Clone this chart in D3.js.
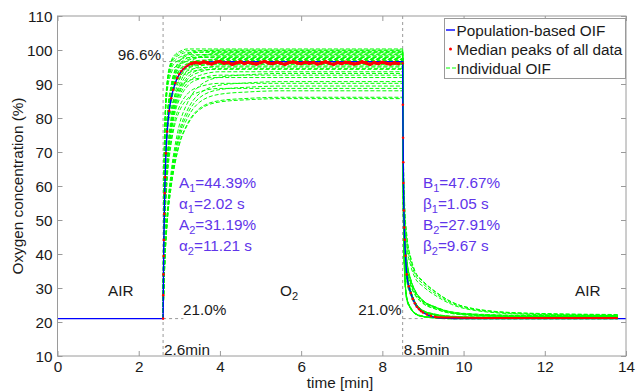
<!DOCTYPE html>
<html><head><meta charset="utf-8">
<script src="https://cdn.jsdelivr.net/npm/d3@7"></script>
<style>
html,body{margin:0;padding:0;background:#fff;}
svg text{font-family:"Liberation Sans",Arial,Helvetica,sans-serif;}
</style></head>
<body><svg id="c" width="636" height="391"></svg>
<script>
// ---------------- data ----------------
const xTicks = [0, 2, 4, 6, 8, 10, 12, 14];
const yTicks = [10, 20, 30, 40, 50, 60, 70, 80, 90, 100, 110];
const switchTimes = [2.6, 8.5];          // min
const baseLevel = 21.0, peakLevel = 96.6; // %

// population-based OIF (blue)
const blueT = [0, 2.6, 2.605, 2.61, 2.615, 2.62, 2.63, 2.64, 2.65, 2.67, 2.7, 2.75, 2.8, 2.9, 3.0, 3.1, 3.2, 3.35, 3.5, 3.75, 4.0, 5.0, 8.5,
               8.505, 8.51, 8.515, 8.52, 8.53, 8.54, 8.55, 8.57, 8.6, 8.65, 8.7, 8.75, 8.8, 8.85, 8.9, 9.0, 9.15, 9.3, 9.5, 9.7, 10.0, 14.0];
const blueV = [21, 21, 27.9, 34.0, 39.4, 44.1, 51.8, 57.9, 62.6, 69.6, 76.0, 82.1, 85.8, 90.3, 92.9, 94.4, 95.3, 96.0, 96.3, 96.5, 96.55, 96.58, 96.58,
               83.9, 74.2, 67.0, 60.9, 52.8, 47.8, 44.2, 39.5, 34.0, 30.5, 28.5, 26.8, 25.5, 24.5, 23.8, 22.8, 21.9, 21.4, 21.15, 21.05, 21.0, 21.0];

// median peaks of all data (red dots)
const redRiseT = [2.6, 2.605, 2.61, 2.615, 2.62, 2.63, 2.64, 2.65, 2.67, 2.7, 2.75, 2.8, 2.85, 2.9, 2.95, 3.0, 3.05, 3.1, 3.15, 3.2, 3.25];
const redRiseV = [21, 27.9, 34.0, 39.4, 44.1, 51.8, 57.9, 62.6, 69.6, 76.0, 82.1, 85.8, 88.3, 90.3, 91.8, 92.9, 93.8, 94.5, 95.0, 95.4, 95.8];
const redPlateauStart = 3.3, redPlateauStep = 0.1;
const redPlateauV = [96.0, 96.3, 96.1, 96.5, 96.2, 95.9, 96.4, 96.6, 96.1, 96.3, 95.8, 96.2, 96.5, 96.0, 96.4, 96.1, 95.9, 96.3, 96.6, 96.2,
                     96.0, 96.4, 96.1, 95.8, 96.3, 96.5, 96.2, 96.0, 96.4, 96.1, 96.3, 95.9, 96.2, 96.5, 96.1, 95.8, 96.3, 96.0, 96.4, 96.2,
                     95.9, 96.1, 96.5, 96.2, 95.8, 96.3, 96.0, 96.4, 96.1, 95.9, 96.2, 96.0];
const redFallT = [8.5, 8.505, 8.51, 8.515, 8.52, 8.53, 8.54, 8.55, 8.57, 8.6, 8.65, 8.7, 8.75, 8.8, 8.85, 8.9, 8.95, 9.0, 9.1, 9.2, 9.3];
const redFallV = [96.1, 83.9, 74.2, 67.0, 60.9, 52.8, 47.8, 44.2, 39.5, 34.0, 30.5, 28.5, 26.8, 25.5, 24.5, 23.8, 23.2, 22.8, 22.2, 21.8, 21.5];
const redTailT = [9.3, 9.4, 9.6, 9.8, 10.0, 10.5, 11.0, 12.0, 13.0, 13.8];
const redTailV = [21.5, 21.4, 21.3, 21.3, 21.25, 21.2, 21.2, 21.2, 21.2, 21.2];

// individual OIF curves (green): read shapes (fractions of the step) and per-curve levels
const riseT = [2.6, 2.62, 2.65, 2.7, 2.8, 2.9, 3.0, 3.2, 3.5, 4.0, 4.7, 5.5, 8.5];
const riseShapes = [
  [0, 0.50, 0.75, 0.88, 0.955, 0.98, 0.99, 1, 1, 1, 1, 1, 1],
  [0, 0.32, 0.57, 0.75, 0.87, 0.93, 0.96, 0.985, 0.997, 1, 1, 1, 1],
  [0, 0.22, 0.43, 0.60, 0.76, 0.85, 0.90, 0.955, 0.985, 1, 1, 1, 1],
  [0, 0.13, 0.28, 0.43, 0.60, 0.71, 0.79, 0.88, 0.95, 0.985, 0.995, 1, 1]
];
const fallT = [8.52, 8.55, 8.6, 8.7, 8.8, 9.0, 9.3, 9.7, 10.3, 11.5, 13.8];
const fallShapes = [
  [0.38, 0.18, 0.08, 0.04, 0.02, 0.008, 0.003, 0, 0, 0, 0],
  [0.49, 0.28, 0.17, 0.10, 0.06, 0.026, 0.011, 0.003, 0, 0, 0],
  [0.52, 0.33, 0.22, 0.14, 0.10, 0.06, 0.035, 0.015, 0.006, 0.001, 0],
  [0.60, 0.42, 0.31, 0.22, 0.17, 0.13, 0.09, 0.05, 0.022, 0.006, 0]
];
const indivPlateau = [100.3, 100.0, 99.8, 99.6, 99.3, 99.1, 98.8, 98.6, 98.3, 98.0, 97.8, 97.5, 97.2, 96.9, 96.6, 96.3, 96.0,
                      95.7, 95.3, 95.0, 94.6, 94.3, 93.6, 93.1, 92.6, 91.9, 90.7, 90.2, 89.4, 88.7, 88.0, 86.1, 85.7];
const indivRise = [0, 1, 0, 1, 0, 2, 1, 0, 1, 1, 0, 2, 1, 1, 0, 2, 1, 1, 2, 1, 2, 1, 2, 3, 2, 1, 3, 2, 3, 2, 3, 3, 3];
const indivFall = [1, 0, 2, 1, 0, 1, 3, 1, 0, 2, 1, 1, 0, 2, 1, 3, 0, 1, 2, 1, 0, 2, 1, 3, 1, 0, 2, 1, 2, 0, 3, 1, 2];
const indivTail = [21.3, 21.1, 21.6, 21.2, 21.0, 21.4, 22.1, 21.2, 20.9, 21.8, 21.3, 21.5, 21.1, 21.7, 21.2, 22.2, 21.0,
                   21.4, 21.9, 21.3, 21.1, 21.6, 21.2, 22.0, 21.4, 21.0, 21.8, 21.3, 21.5, 21.1, 21.9, 21.2, 21.6];

const legendLabels = ["Population-based OIF", "Median peaks of all data", "Individual OIF"];
const paramsA = [["A", "1", "=44.39%"], ["α", "1", "=2.02 s"], ["A", "2", "=31.19%"], ["α", "2", "=11.21 s"]];
const paramsB = [["B", "1", "=47.67%"], ["β", "1", "=1.05 s"], ["B", "2", "=27.91%"], ["β", "2", "=9.67 s"]];

// ---------------- chart ----------------
const svg = d3.select("#c");
const x = d3.scaleLinear().domain([0, 14]).range([57.5, 626]);
const y = d3.scaleLinear().domain([10, 110]).range([356, 16]);
const FS = 15.3;
const frameCol = "#9a9a9a";
const txtCol = "#1a1a1a";
const paramCol = "#6035ea";

svg.append("clipPath").attr("id", "pc").append("rect")
  .attr("x", x(0)).attr("y", y(110)).attr("width", x(14) - x(0)).attr("height", y(10) - y(110));

// helper dashed lines
const helper = svg.append("g").attr("stroke", "#999").attr("stroke-width", 1).attr("stroke-dasharray", "3,3").attr("fill", "none");
switchTimes.forEach(t => helper.append("line").attr("x1", x(t)).attr("x2", x(t)).attr("y1", y(110)).attr("y2", y(10)));
helper.append("line").attr("x1", x(2.6)).attr("x2", x(3.1)).attr("y1", y(peakLevel)).attr("y2", y(peakLevel));
helper.append("line").attr("x1", x(2.6)).attr("x2", x(3.1)).attr("y1", y(baseLevel)).attr("y2", y(baseLevel));
helper.append("line").attr("x1", x(8.5)).attr("x2", x(9.0)).attr("y1", y(baseLevel)).attr("y2", y(baseLevel));

const line = d3.line().x(d => x(d[0])).y(d => y(d[1])).curve(d3.curveMonotoneX);
const plot = svg.append("g").attr("clip-path", "url(#pc)");

// green individual curves
const greenG = plot.append("g").attr("fill", "none").attr("stroke", "#00ff00").attr("stroke-width", 1).attr("stroke-dasharray", "4,2");
indivPlateau.forEach((p, i) => {
  const rs = riseShapes[indivRise[i]], fs = fallShapes[indivFall[i]], tail = indivTail[i];
  const pts = riseT.map((t, k) => [t, baseLevel + (p - baseLevel) * rs[k]]);
  fallT.forEach((t, k) => pts.push([t, tail + (p - tail) * fs[k]]));
  greenG.append("path").attr("d", line(pts));
});

// blue population-based curve
plot.append("path").attr("d", line(blueT.map((t, i) => [t, blueV[i]])))
  .attr("fill", "none").attr("stroke", "#0000ff").attr("stroke-width", 1.4);

// red median peaks
const redPlat = redPlateauV.map((v, i) => [redPlateauStart + i * redPlateauStep, v]);
const redG = plot.append("g").attr("fill", "#ff0000");
redG.append("path").attr("d", line(redPlat)).attr("fill", "none").attr("stroke", "#ff0000").attr("stroke-width", 3);
redG.append("path").attr("d", line(redTailT.map((t, i) => [t, redTailV[i]]))).attr("fill", "none").attr("stroke", "#ff0000").attr("stroke-width", 2);
const redSteep = redRiseT.map((t, i) => [t, redRiseV[i]]).concat(redFallT.map((t, i) => [t, redFallV[i]]));
redG.selectAll("circle.steep").data(redSteep).join("circle").attr("class", "steep")
  .attr("cx", d => x(d[0])).attr("cy", d => y(d[1])).attr("r", 1.3);
redG.selectAll("circle.plat").data(redPlat).join("circle").attr("class", "plat")
  .attr("cx", d => x(d[0])).attr("cy", d => y(d[1])).attr("r", 1.8);

// frame + axes
svg.append("rect").attr("x", x(0)).attr("y", y(110)).attr("width", x(14) - x(0)).attr("height", y(10) - y(110))
  .attr("fill", "none").attr("stroke", frameCol);

function styleAxis(g) {
  g.select(".domain").remove();
  g.selectAll(".tick line").attr("stroke", frameCol);
  g.selectAll(".tick text").attr("fill", txtCol).attr("font-size", FS);
}
const xb = svg.append("g").attr("transform", `translate(0,${y(10)})`)
  .call(d3.axisBottom(x).tickValues(xTicks).tickSizeInner(-5).tickSizeOuter(0).tickFormat(d3.format("d")));
styleAxis(xb);
xb.selectAll(".tick text").attr("y", 16).attr("dy", 0);
const xt = svg.append("g").attr("transform", `translate(0,${y(110)})`)
  .call(d3.axisTop(x).tickValues(xTicks).tickSizeInner(-5).tickSizeOuter(0).tickFormat(""));
styleAxis(xt);
const yl = svg.append("g").attr("transform", `translate(${x(0)},0)`)
  .call(d3.axisLeft(y).tickValues(yTicks).tickSizeInner(-5).tickSizeOuter(0).tickFormat(d3.format("d")));
styleAxis(yl);
yl.selectAll(".tick text").attr("x", -5).attr("dy", "0.35em");
const yr = svg.append("g").attr("transform", `translate(${x(14)},0)`)
  .call(d3.axisRight(y).tickValues(yTicks).tickSizeInner(-5).tickSizeOuter(0).tickFormat(""));
styleAxis(yr);

// axis titles
svg.append("text").attr("x", 340).attr("y", 388).attr("text-anchor", "middle").attr("font-size", FS).attr("fill", txtCol).text("time [min]");
svg.append("text").attr("transform", `translate(23,${(y(10) + y(110)) / 2}) rotate(-90)`).attr("text-anchor", "middle")
  .attr("font-size", FS).attr("fill", txtCol).text("Oxygen concentration (%)");

// annotations
const ann = svg.append("g").attr("font-size", FS).attr("fill", txtCol);
ann.append("text").attr("x", x(2.6) - 2).attr("y", y(peakLevel) - 2).attr("text-anchor", "end").text(peakLevel.toFixed(1) + "%");
ann.append("text").attr("x", 183).attr("y", 315).text(baseLevel.toFixed(1) + "%");
ann.append("text").attr("x", x(8.5) - 1).attr("y", 315).attr("text-anchor", "end").text(baseLevel.toFixed(1) + "%");
ann.append("text").attr("x", x(2.6) + 1).attr("y", 355).text(switchTimes[0] + "min");
ann.append("text").attr("x", x(8.5) + 1).attr("y", 355).text(switchTimes[1] + "min");
ann.append("text").attr("x", 108).attr("y", 296).text("AIR");
ann.append("text").attr("x", 575).attr("y", 296).text("AIR");
const o2 = ann.append("text").attr("x", 280).attr("y", 296);
o2.append("tspan").text("O");
o2.append("tspan").attr("dy", 4).attr("font-size", 11).text("2");

function params(list, x0) {
  const g = svg.append("g").attr("font-size", FS).attr("fill", paramCol);
  list.forEach((p, i) => {
    const t = g.append("text").attr("x", x0).attr("y", 188 + i * 21);
    t.append("tspan").text(p[0]);
    t.append("tspan").attr("dy", 4).attr("font-size", 11).text(p[1]);
    t.append("tspan").attr("dy", -4).text(p[2]);
  });
}
params(paramsA, 179);
params(paramsB, 423);

// legend
const lg = svg.append("g");
lg.append("rect").attr("x", 444.5).attr("y", 18.5).attr("width", 181).attr("height", 60).attr("fill", "#fff").attr("stroke", frameCol);
const rowY = [30, 49, 68];
lg.append("line").attr("x1", 446).attr("x2", 455).attr("y1", rowY[0]).attr("y2", rowY[0]).attr("stroke", "#0000ff").attr("stroke-width", 1.4);
lg.append("circle").attr("cx", 450.5).attr("cy", rowY[1]).attr("r", 1.5).attr("fill", "#ff0000");
lg.append("line").attr("x1", 446).attr("x2", 456).attr("y1", rowY[2]).attr("y2", rowY[2]).attr("stroke", "#00ff00").attr("stroke-dasharray", "4,2");
legendLabels.forEach((s, i) => lg.append("text").attr("x", 456.5).attr("y", rowY[i] + 5.5).attr("font-size", FS).attr("fill", txtCol).text(s));
</script></body></html>
